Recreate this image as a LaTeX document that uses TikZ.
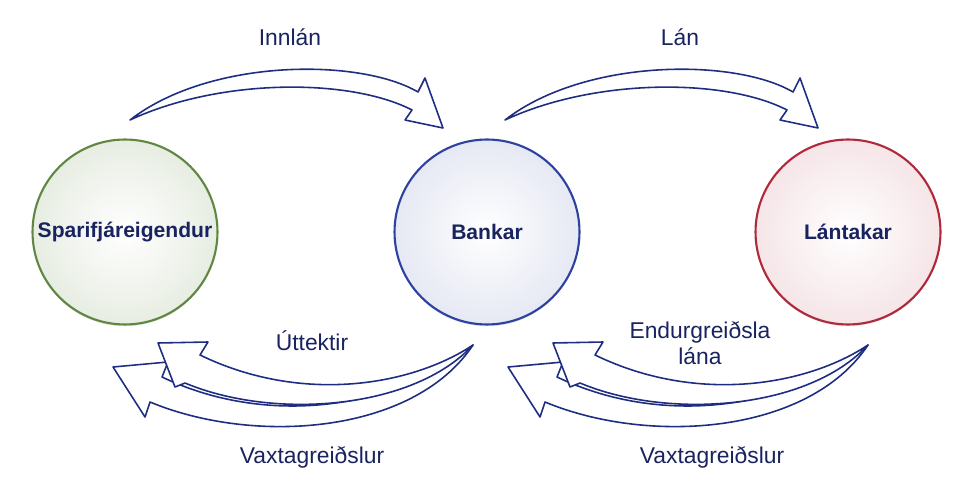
\documentclass[tikz,border=0pt]{standalone}
\usepackage{fontspec}
\setmainfont{Liberation Sans}
\usetikzlibrary{positioning,shadows}
\definecolor{navy}{RGB}{25,35,95}
\definecolor{arrowblue}{RGB}{30,45,130}
\definecolor{ringgreen}{RGB}{95,135,65}
\definecolor{ringblue}{RGB}{45,65,160}
\definecolor{ringred}{RGB}{175,40,60}
% block arrow shapes, coordinates in pixels
\newcommand{\toparrow}{%
  (0,0) .. controls (80,-62) and (230,-62) .. (288,-28)
  -- (295,-42) -- (313,8) -- (275,0) -- (282,-10)
  .. controls (220,-42) and (90,-42) .. cycle}
\newcommand{\lowerarrow}{%
  (0,0) .. controls (-60,90) and (-220,100) .. (-323,57)
  -- (-328,72) -- (-360,22) -- (-305,17) -- (-311,32)
  .. controls (-200,85) and (-70,60) .. cycle}
\newcommand{\upperarrow}{%
  (0,0) .. controls (-60,65) and (-200,75) .. (-288,38)
  -- (-298,42) -- (-315,-2) -- (-265,-3) -- (-273,10)
  .. controls (-170,60) and (-60,40) .. cycle}
\begin{document}
\begin{tikzpicture}[
    x=0.02cm, y=-0.02cm,
    font=\fontsize{13}{15}\selectfont\color{navy},
    party/.style={
        circle,
        minimum size=3.7cm,
        inner sep=0pt,
        line width=1.2pt,
        drop shadow={opacity=0.25,shadow xshift=0pt,shadow yshift=-1pt},
        font=\fontsize{12}{14}\selectfont\bfseries\color{navy}
    },
    block/.style={
        draw=arrowblue,
        fill=white,
        line width=0.9pt,
        line join=round
    },
    label/.style={align=center}
  ]
  \useasboundingbox (0,0) rectangle (976,496);

  % the three parties
  \node [party, draw=ringgreen, inner color=white, outer color=ringgreen!15] (savers) at (125,232) {Sparifjáreigendur};
  \node [party, draw=ringblue, inner color=white, outer color=ringblue!12] (banks) at (487,232) {Bankar};
  \node [party, draw=ringred, inner color=white, outer color=ringred!12] (borrowers) at (848,232) {Lántakar};

  % flows on top
  \begin{scope}[shift={(130,120)}]
    \draw [block] \toparrow;
  \end{scope}
  \begin{scope}[shift={(505,120)}]
    \draw [block] \toparrow;
  \end{scope}

  % flows below
  \begin{scope}[shift={(473,345)}]
    \draw [block] \lowerarrow;
    \draw [block] \upperarrow;
  \end{scope}
  \begin{scope}[shift={(868,345)}]
    \draw [block] \lowerarrow;
    \draw [block] \upperarrow;
  \end{scope}

  % labels
  \node [label] (deposits) at (290,37) {Innlán};
  \node [label] (loans) at (680,37) {Lán};
  \node [label] (withdrawals) at (312,341) {Úttektir};
  \node [label] (repayment) at (700,343) {Endurgreiðsla\\lána};
  \node [label] (interest1) at (312,457) {Vaxtagreiðslur};
  \node [label] (interest2) at (712,457) {Vaxtagreiðslur};
\end{tikzpicture}
\end{document}
